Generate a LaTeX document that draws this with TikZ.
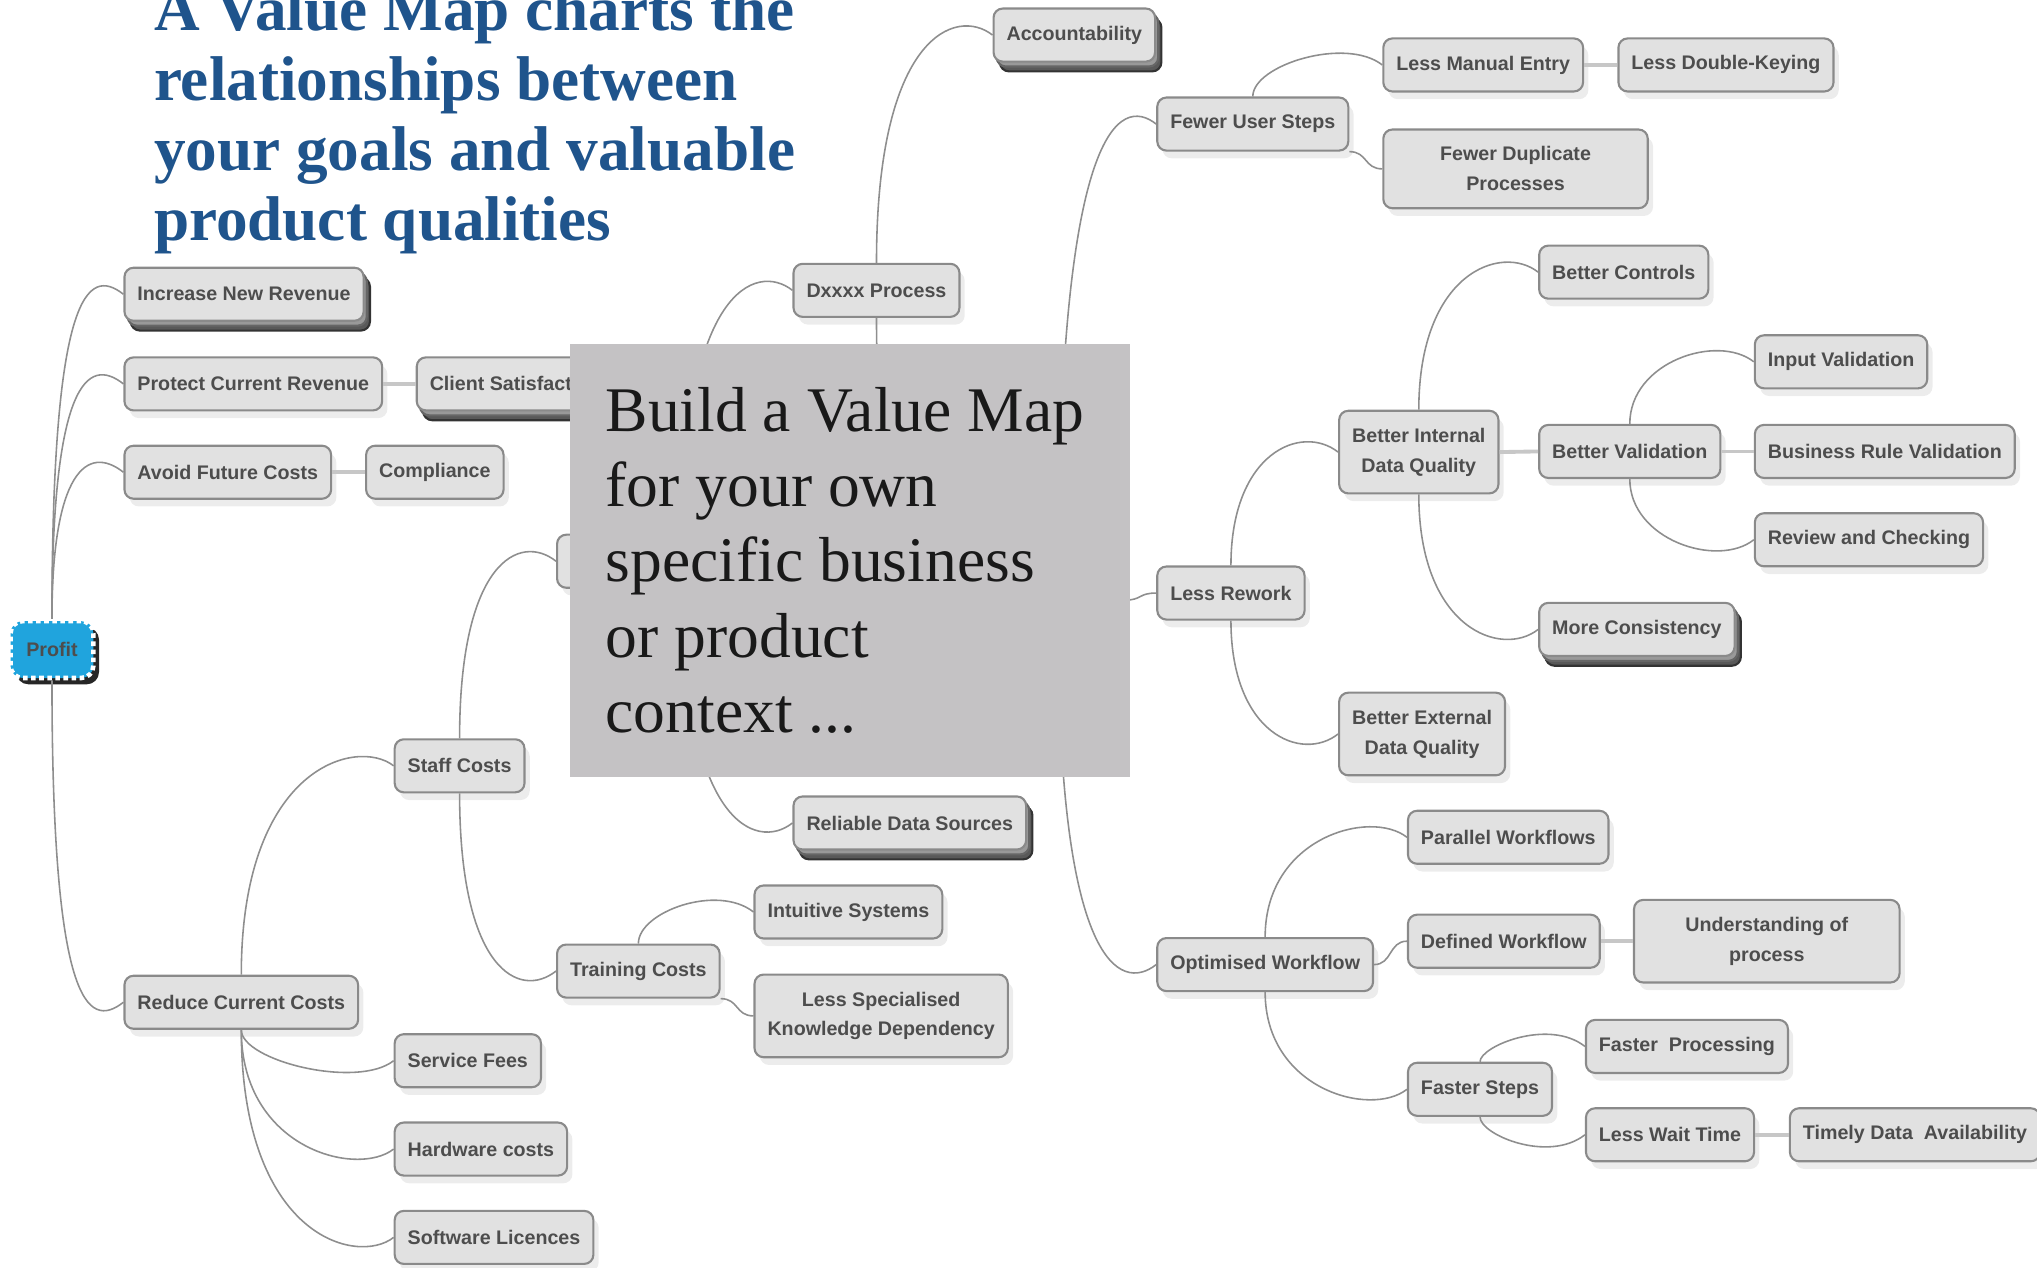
\documentclass[tikz,border=0pt]{standalone}
\usepackage{fontspec}
\setsansfont{Liberation Sans}
\newfontfamily\titlefont{Liberation Serif}
\usepackage{tikz}
\usetikzlibrary{shadows}

\definecolor{titleblue}{HTML}{1F548C}
\definecolor{boxgray}{HTML}{C4C2C4}
\definecolor{topicfill}{HTML}{E1E1E1}
\definecolor{topicline}{HTML}{8A8A8A}
\definecolor{topictext}{HTML}{4D4D4D}
\definecolor{wiregray}{HTML}{8E8E8E}
\definecolor{profitblue}{HTML}{20A4DD}

\begin{document}
\begin{tikzpicture}[x=0.013cm, y=-0.013cm,
	topic/.style={draw=topicline, line width=0.6pt, fill=topicfill, rounded corners=2.6pt, text=topictext, font=\sffamily\bfseries\fontsize{5.6}{8.5}\selectfont, inner xsep=3.7pt, inner ysep=4.9pt, minimum height=15.1pt, align=center, anchor=west, drop shadow={opacity=0.15, shadow xshift=1.5pt, shadow yshift=-2.2pt}},
	stacked/.style={general shadow={shadow xshift=1.8pt, shadow yshift=-2.8pt, fill=black!65, draw=black!80}, general shadow={shadow xshift=0.9pt, shadow yshift=-1.4pt, fill=black!40, draw=black!60}},
	root/.style={draw=white, densely dotted, line width=1.3pt, fill=profitblue, rounded corners=3.5pt, text=topictext, font=\sffamily\bfseries\fontsize{5.6}{8.5}\selectfont, minimum width=23.6pt, minimum height=16.2pt, drop shadow={opacity=0.85, fill=black, shadow xshift=1.6pt, shadow yshift=-1.8pt}},
	wire/.style={draw=wiregray, line width=0.45pt},
	rise/.style={wire, to path={.. controls (\tikztostart |- \tikztotarget) and ([shift={(-28,-22)}]\tikztotarget) .. (\tikztotarget)}},
	fall/.style={wire, to path={.. controls (\tikztostart |- \tikztotarget) and ([shift={(-28,22)}]\tikztotarget) .. (\tikztotarget)}},
	flank/.style={wire, to path={.. controls ([shift={(14,0)}]\tikztostart) and ([shift={(-14,0)}]\tikztotarget) .. (\tikztotarget)}},
	peer/.style={draw=black!22, line width=1.1pt}]
	\useasboundingbox (0,0) rectangle (1568,976);

	\node[anchor=north west, inner sep=0pt, align=flush left, text=titleblue, font=\titlefont\bfseries\fontsize{18}{19.9}\selectfont] (title) at (118,-10.5) {A Value Map charts the\\ relationships between\\ your goals and valuable\\ product qualities};

	\node[root] (profit) at (40,500) {Profit};
	\node[topic, stacked] (inr) at (95,226.5) {Increase New Revenue};
	\node[topic] (pcr) at (95,295.5) {Protect Current Revenue};
	\node[topic, stacked] (cls) at (320,295.5) {Client Satisfaction};
	\node[topic] (afc) at (95,363.5) {Avoid Future Costs};
	\node[topic] (cmp) at (281,363.5) {Compliance};
	\node[topic] (rcc) at (95,771.5) {Reduce Current Costs};

	\node[topic] (stc) at (303,589.5) {Staff Costs};
	\node[topic] (svf) at (303,816.5) {Service Fees};
	\node[topic] (hwc) at (303,884.5) {Hardware costs};
	\node[topic] (swl) at (303,952.5) {Software Licences};
	\node[topic] (trc) at (428,747.5) {Training Costs};
	\node[topic] (ins) at (580,702) {Intuitive Systems};
	\node[topic] (lsk) at (580,782) {Less Specialised\\ Knowledge Dependency};

	\node[topic, minimum width=71.6pt] (hida) at (428,432) {};
	\node[topic] (dxp) at (610,223.5) {Dxxxx Process};
	\node[topic, stacked] (acc) at (764,27) {Accountability};
	\node[topic, stacked] (rds) at (610,633.5) {Reliable Data Sources};
	\node[topic, minimum width=36.9pt] (hidb) at (764,462) {};

	\node[topic] (fus) at (890,95.5) {Fewer User Steps};
	\node[topic] (lme) at (1064,50) {Less Manual Entry};
	\node[topic] (ldk) at (1245,50) {Less Double-Keying};
	\node[topic, minimum width=75.3pt] (fdp) at (1064,130) {Fewer Duplicate\\ Processes};

	\node[topic] (lrw) at (890,456.5) {Less Rework};
	\node[topic] (bid) at (1030,348) {Better Internal\\ Data Quality};
	\node[topic] (bct) at (1184,209.5) {Better Controls};
	\node[topic] (bvl) at (1184,347.5) {Better Validation};
	\node[topic] (ivl) at (1350,278.5) {Input Validation};
	\node[topic] (brv) at (1350,347.5) {Business Rule Validation};
	\node[topic] (rac) at (1350,415.5) {Review and Checking};
	\node[topic, stacked] (mcs) at (1184,484.5) {More Consistency};
	\node[topic] (bed) at (1030,565) {Better External\\ Data Quality};

	\node[topic] (opw) at (890,742.5) {Optimised Workflow};
	\node[topic] (pwf) at (1083,644.5) {Parallel Workflows};
	\node[topic] (dwf) at (1083,724.5) {Defined Workflow};
	\node[topic, minimum width=75.6pt] (uop) at (1257,724.5) {Understanding of\\ process};
	\node[topic] (fst) at (1083,838.5) {Faster Steps};
	\node[topic] (fpr) at (1220,805.5) {Faster~~Processing};
	\node[topic] (lwt) at (1220,873.5) {Less Wait Time};
	\node[topic] (tda) at (1377,873.5) {Timely Data~~Availability};

	\path (profit.north) edge[rise] (inr.west)
		(profit.north) edge[rise] (pcr.west)
		(profit.north) edge[rise] (afc.west)
		(profit.south) edge[fall] (rcc.west)
		(pcr.east) edge[peer] (cls.west)
		(afc.east) edge[peer] (cmp.west);
	\path (rcc.north) edge[rise] (stc.west)
		(rcc.south) edge[fall] (svf.west)
		(rcc.south) edge[fall] (hwc.west)
		(rcc.south) edge[fall] (swl.west)
		(stc.north) edge[rise] (hida.west)
		(stc.south) edge[fall] (trc.west)
		(trc.north) edge[rise] (ins.west)
		(trc.south east) edge[flank] (lsk.west);
	\path (hida.north) edge[rise] (dxp.west)
		(hida.south) edge[fall] (rds.west)
		(dxp.north) edge[rise] (acc.west)
		(dxp.south) edge[fall] (hidb.west)
		(hidb.north) edge[rise] (fus.west)
		(hidb.east) edge[flank] (lrw.west)
		(hidb.south) edge[fall] (opw.west);
	\path (fus.north) edge[rise] (lme.west)
		(fus.south east) edge[flank] (fdp.west)
		(lme.east) edge[peer] (ldk.west)
		(lrw.north) edge[rise] (bid.west)
		(lrw.south) edge[fall] (bed.west)
		(bid.north) edge[rise] (bct.west)
		(bid.east) edge[peer] (bvl.west)
		(bid.south) edge[fall] (mcs.west)
		(bvl.north) edge[rise] (ivl.west)
		(bvl.east) edge[peer] (brv.west)
		(bvl.south) edge[fall] (rac.west);
	\path (opw.north) edge[rise] (pwf.west)
		(opw.east) edge[flank] (dwf.west)
		(opw.south) edge[fall] (fst.west)
		(dwf.east) edge[peer] (uop.west)
		(fst.north) edge[rise] (fpr.west)
		(fst.south) edge[fall] (lwt.west)
		(lwt.east) edge[peer] (tda.west);

	\node[fill=boxgray, anchor=north west, text width=139pt, inner xsep=10.25pt, inner ysep=12.5pt, minimum height=123.3pt, align=flush left, text=black!90, font=\titlefont\fontsize{18.1}{21.4}\selectfont] (ctx) at (438,264) {Build a Value Map\\ for your own\\ specific business\\ or product\\ context ...};
\end{tikzpicture}
\end{document}
